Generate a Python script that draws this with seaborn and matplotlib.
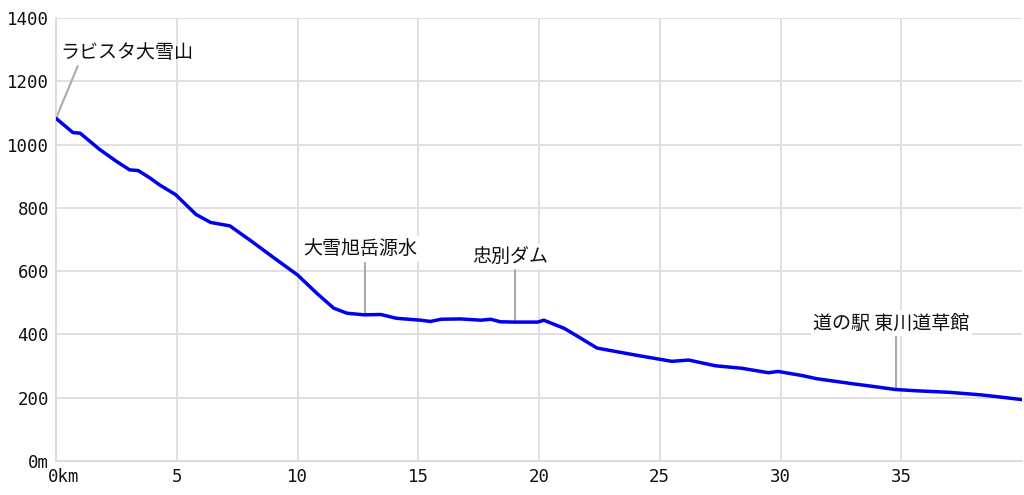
import matplotlib
matplotlib.use("Agg")
import matplotlib.pyplot as plt
import matplotlib.transforms as mtransforms
import seaborn as sns
import pandas as pd

# elevation profile (km, m)
dist_km = [0.0, 0.7, 1.0, 1.8, 2.5, 3.05, 3.4, 3.9, 4.3, 4.95, 5.8, 6.4, 7.2,
           8.05, 9.15, 10.0, 10.8, 11.5, 12.05, 12.75, 13.45, 14.1, 15.1, 15.5,
           15.95, 16.75, 17.6, 18.0, 18.4, 18.95, 19.95, 20.2, 21.05, 21.6,
           22.4, 23.25, 24.2, 25.5, 26.2, 27.3, 28.4, 29.5, 29.9, 30.9, 31.5,
           33.0, 34.0, 34.75, 35.6, 37.0, 38.3, 39.0, 40.0]
elev_m = [1083, 1038, 1036, 985, 947, 920, 918, 894, 872, 842, 779, 754, 743,
          697, 635, 588, 530, 483, 467, 462, 463, 451, 445, 441,
          448, 449, 445, 448, 440, 439, 439, 445, 419, 394,
          357, 345, 332, 315, 319, 301, 293, 279, 283, 270, 260,
          244, 234, 226, 222, 217, 209, 203, 194]

# place labels: name, km along the route, label height
places = ["ラビスタ大雪山", "大雪旭岳源水", "忠別ダム", "道の駅 東川道草館"]
place_km = [0.0, 12.8, 19.0, 34.8]
place_label_y = [1292, 672, 647, 436]

y_ticks = [0, 200, 400, 600, 800, 1000, 1200, 1400]
y_tick_labels = ["0m", "200", "400", "600", "800", "1000", "1200", "1400"]
x_ticks = [0, 5, 10, 15, 20, 25, 30, 35]
x_tick_labels = ["0km", "5", "10", "15", "20", "25", "30", "35"]

df = pd.DataFrame({"km": dist_km, "m": elev_m})

sns.set_style("white")
plt.rcParams["font.family"] = ["Noto Sans CJK JP", "DejaVu Sans"]

fig = plt.figure(figsize=(10.24, 4.95), dpi=100)
ax = fig.add_axes([56 / 1024, 1 - 461 / 495, 966 / 1024, 443 / 495])

sns.lineplot(data=df, x="km", y="m", ax=ax, color="#0000ee", linewidth=2.5,
             zorder=3)

ax.set_xlim(0, 40)
ax.set_ylim(0, 1400)
ax.set_xticks(x_ticks)
ax.set_xticklabels(x_tick_labels, fontfamily="DejaVu Sans Mono", fontsize=12.5)
ax.set_yticks(y_ticks)
ax.set_yticklabels(y_tick_labels, fontfamily="DejaVu Sans Mono", fontsize=12.5)
ax.tick_params(length=0, pad=5, colors="#111111")
ax.set_xlabel("")
ax.set_ylabel("")
ax.grid(True, color="#e0e0e0", linewidth=1.4)
for side in ["top", "right"]:
    ax.spines[side].set_visible(False)
for side in ["left", "bottom"]:
    ax.spines[side].set_color("#dddddd")
    ax.spines[side].set_linewidth(1.4)

# shift "0km" a bit right like the original
lbl = ax.get_xticklabels()[0]
lbl.set_transform(lbl.get_transform() +
                  mtransforms.ScaledTranslation(8 / 100, 0, fig.dpi_scale_trans))

# annotations with leader lines
for name, km, ly in zip(places, place_km, place_label_y):
    y0 = df.loc[(df["km"] - km).abs().idxmin(), "m"]
    if km == 0.0:
        ax.plot([0, 0.9], [y0, y0 + 165], color="#aaaaaa", linewidth=1.5,
                zorder=2, clip_on=False)
        ax.text(0.17, ly, name, fontsize=13.7, ha="left", va="center",
                color="#111111")
    else:
        ax.plot([km, km], [y0, y0 + 165], color="#aaaaaa", linewidth=1.5,
                zorder=2)
        ax.text(km - 0.2, ly, name, fontsize=13.7, ha="center", va="center",
                color="#111111", zorder=4,
                bbox=dict(facecolor="white", edgecolor="none", pad=1.5))

fig.savefig("out.png", dpi=100)
